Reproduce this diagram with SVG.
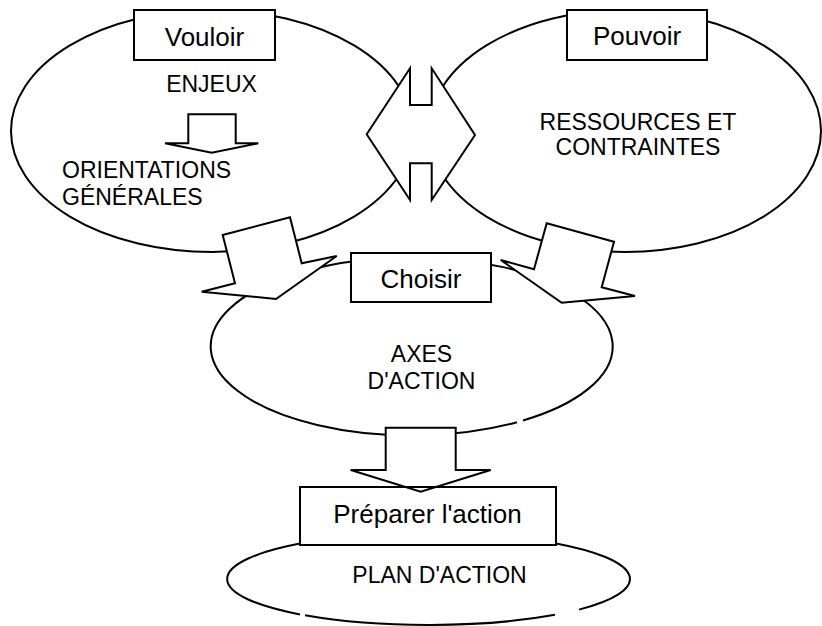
<svg xmlns="http://www.w3.org/2000/svg" width="822" height="626" viewBox="0 0 822 626">
  <style>
    .area { fill: none; stroke: #000; stroke-width: 2; }
    .box { fill: #fff; stroke: #000; stroke-width: 2; }
    .box-open { fill: none; stroke: #000; stroke-width: 2; }
    .arrow { fill: #fff; stroke: #000; stroke-width: 2; stroke-linejoin: miter; }
    text { font-family: "Liberation Sans", Arial, sans-serif; fill: #000; }
    .label { font-size: 26px; text-anchor: middle; }
    .body { font-size: 23px; text-anchor: middle; }
    .body-left { font-size: 23px; }
  </style>

  <!-- Vouloir -->
  <g id="vouloir">
    <ellipse class="area" cx="212" cy="131" rx="201" ry="121"/>
    <rect class="box" x="134" y="10" width="141" height="50"/>
    <text class="label" x="204.5" y="46">Vouloir</text>
    <text class="body" x="211.5" y="92">ENJEUX</text>
    <text class="body-left" x="62" y="178">ORIENTATIONS</text>
    <text class="body-left" x="62" y="205">GÉNÉRALES</text>
  </g>

  <!-- Pouvoir -->
  <g id="pouvoir">
    <ellipse class="area" cx="625" cy="131" rx="196" ry="121"/>
    <rect class="box" x="567" y="10" width="140" height="50"/>
    <text class="label" x="637" y="45">Pouvoir</text>
    <text class="body" x="638" y="130">RESSOURCES ET</text>
    <text class="body" x="638" y="155">CONTRAINTES</text>
  </g>

  <!-- Choisir -->
  <g id="choisir">
    <path class="area" d="M517,422.2 A201,89 0 1 1 523,420.5"/>
    <rect class="box" x="351" y="253" width="140" height="49"/>
    <text class="label" x="421" y="288">Choisir</text>
    <text class="body" x="421.5" y="362">AXES</text>
    <text class="body" x="421.5" y="389">D'ACTION</text>
  </g>

  <!-- block arrows -->
  <g id="connectors">
    <polygon class="arrow" points="188.3,114.3 235.7,114.3 235.7,143.3 258.3,143.3 211.7,152.7 165,143.3 188.3,143.3"/>
    <polygon class="arrow" points="366.7,134.3 410,68.3 410,105 431.7,105 431.7,68.3 475,135 431.7,200 431.7,163.3 410,163.3 410,200"/>
    <polygon class="arrow" points="222.7,235 290,217.3 301.7,263.3 336.7,256 276,299 201.7,291.7 235,283.3"/>
    <polygon class="arrow" points="546.7,223.3 614,241.7 601.7,287.3 635,296 561.7,302.7 500.7,260 534,269.3"/>
    <polygon class="arrow" points="385.7,427.7 455.7,427.7 455.7,470 490.7,470 420.7,491.7 350.7,470 385.7,470"/>
  </g>

  <!-- Préparer l'action -->
  <g id="preparer">
    <path class="area" d="M556,543.4 A201.5,46 0 0 1 579,609.6 M555,614.8 A201.5,46 0 0 1 305,615.3 M300,614.4 A201.5,46 0 0 1 300,543.6"/>
    <rect class="box-open" x="300" y="487" width="256" height="58"/>
    <text class="label" x="427.5" y="523">Préparer l'action</text>
    <text class="body" x="439.5" y="583">PLAN D'ACTION</text>
  </g>
</svg>
